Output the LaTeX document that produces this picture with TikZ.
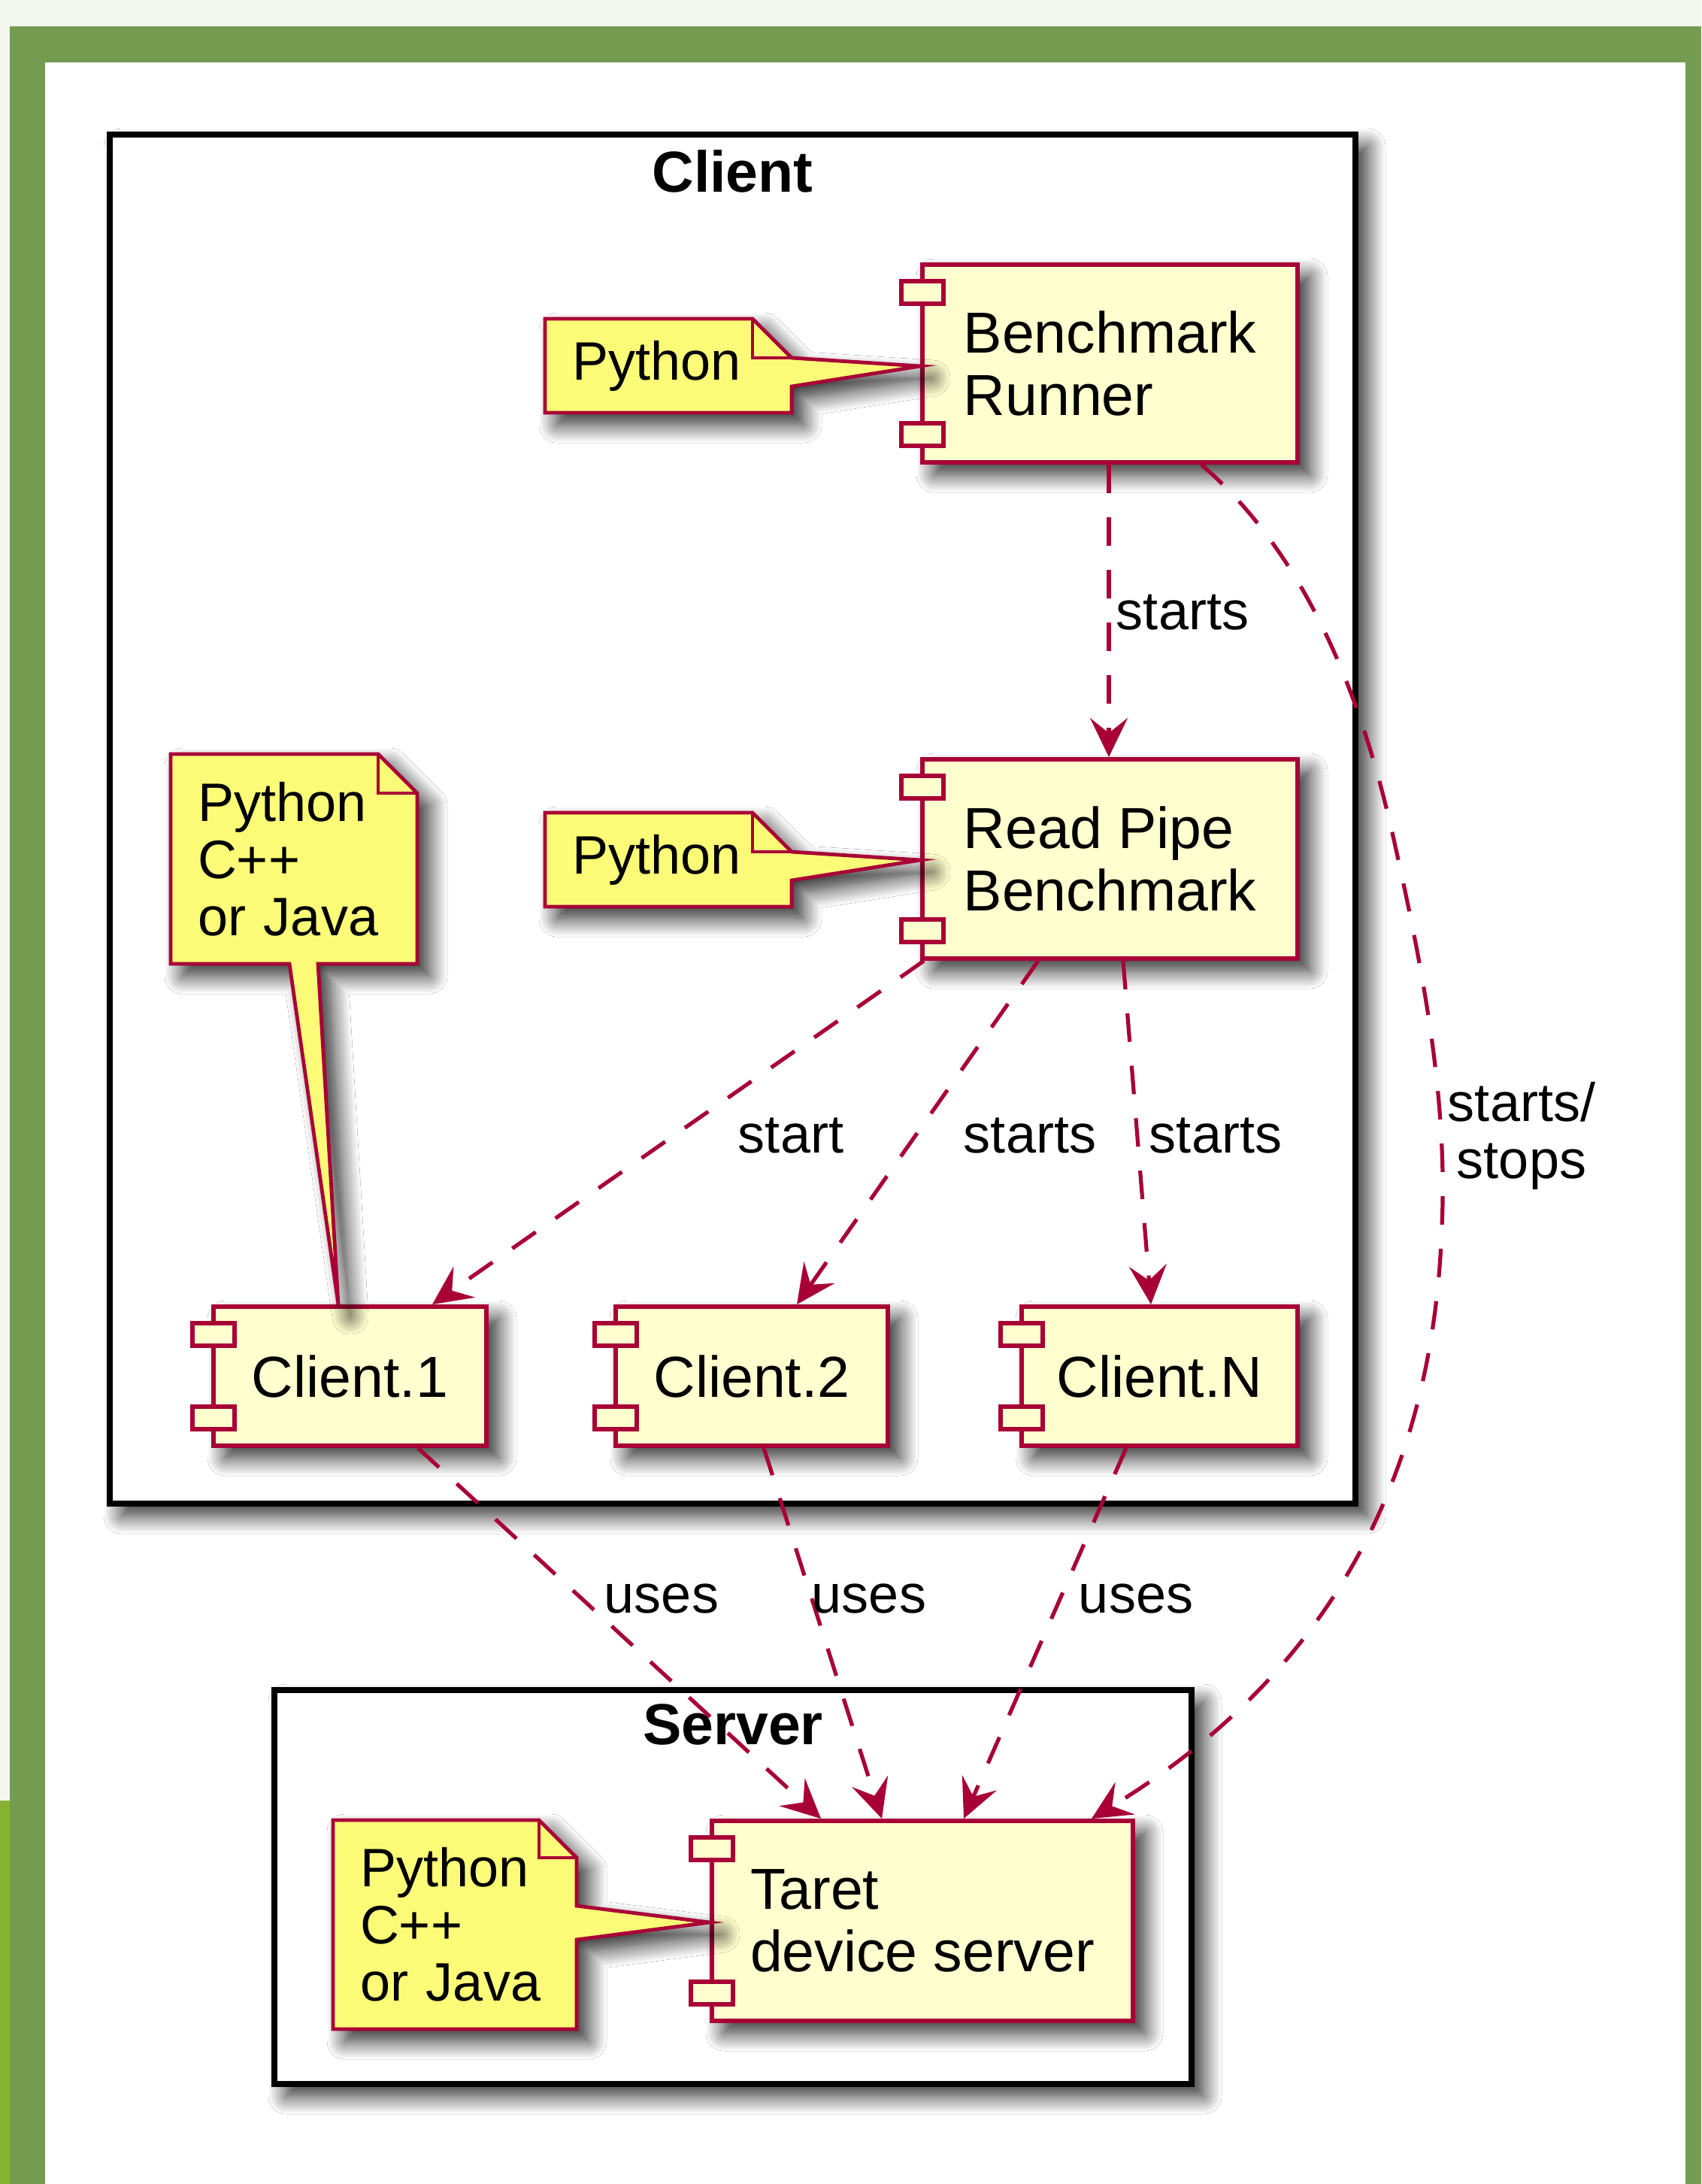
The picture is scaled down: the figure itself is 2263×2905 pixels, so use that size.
\documentclass[tikz,border=0pt]{standalone}
\usepackage{fontspec}
\setmainfont{Liberation Sans}
\usetikzlibrary{arrows.meta,shadows.blur,calc}
\definecolor{umlred}{HTML}{A80036}
\definecolor{compfill}{HTML}{FEFECE}
\definecolor{notefill}{HTML}{FBFB77}
\definecolor{framegreen}{HTML}{739C51}
\definecolor{bgpale}{HTML}{F4F7EE}
\definecolor{limegreen}{HTML}{86B232}
\newcommand\mycompfont{\fontsize{19.25pt}{20.75pt}\selectfont}
\newcommand\mynotefont{\fontsize{18pt}{19pt}\selectfont}
\newcommand\mytitlefont{\fontsize{19.25pt}{21pt}\selectfont\bfseries}
\begin{document}
\begin{tikzpicture}[x=0.25pt,y=-0.25pt,
  shad/.style={blur shadow={shadow xshift=4pt,shadow yshift=-4pt,shadow blur radius=6pt,shadow blur steps=16,shadow opacity=85}},
  comp/.style={rectangle,draw=umlred,fill=compfill,line width=1.5pt,inner xsep=4pt,inner ysep=0pt,align=left,font=\mycompfont,shad},
  port/.style={draw=umlred,fill=compfill,line width=1.5pt},
  pkg/.style={rectangle,draw=black,fill=white,line width=2pt,inner sep=0pt,shad},
  pkgtitle/.style={font=\mytitlefont,inner sep=0pt},
  notenode/.style={rectangle,inner xsep=9pt,inner ysep=0pt,outer sep=0pt,align=left,font=\mynotefont},
  noteshape/.style={draw=umlred,fill=notefill,line width=1.2pt,line join=miter,shad},
  notefold/.style={draw=umlred,line width=1.2pt},
  dep/.style={draw=umlred,line width=1.3pt,dash pattern=on 9.5pt off 8pt,-{Stealth[length=13pt,width=12.5pt,inset=5pt]}},
  lbl/.style={font=\mynotefont,inner sep=0pt,align=center}]
\useasboundingbox (0,0) rectangle (2263,2905);
% page background and frame
\fill[bgpale] (0,0) rectangle (2263,2905);
\fill[framegreen] (13,35) rectangle (2263,2905);
\fill[white] (60,83) rectangle (2242,2905);
\fill[limegreen] (0,2395) rectangle (13,2905);
% packages
\node[pkg,minimum width=414.25pt,minimum height=455.25pt] (client) at (974.5,1089.5) {};
\node[pkg,minimum width=305pt,minimum height=131pt] (server) at (975,2510) {};
\node[pkgtitle] (clientlbl) at ([yshift=-13.25pt]client.north) {Client};
\node[pkgtitle] (serverlbl) at ([yshift=-12.5pt]server.north) {Server};
% components
\node[comp,minimum width=124.75pt,minimum height=65.75pt] (runner) at (1476.5,483.5) {Benchmark\\Runner};
\node[comp,minimum width=124.75pt,minimum height=66.25pt] (readpipe) at (1476.5,1142.5) {Read Pipe\\Benchmark};
\node[comp,minimum width=90.75pt,minimum height=46.25pt] (client1) at (465.5,1830.5) {Client.1};
\node[comp,minimum width=90.5pt,minimum height=46.25pt] (client2) at (1000,1830.5) {Client.2};
\node[comp,minimum width=91.75pt,minimum height=46.25pt] (clientN) at (1542.5,1830.5) {Client.N};
\node[comp,minimum width=140pt,minimum height=66.5pt] (taret) at (1227,2555) {Taret\\device server};
\foreach \c in {runner,readpipe,client1,client2,clientN,taret}{
  \draw[port] ([xshift=-6.25pt,yshift=-6.25pt]\c.north west) rectangle ++(14pt,-7.5pt);
  \draw[port] ([xshift=-6.25pt,yshift=6.25pt]\c.south west) rectangle ++(14pt,7.5pt);
}
% note corners
\coordinate (n1a) at (725,424);  \coordinate (n1b) at (1053,549);
\coordinate (n2a) at (725,1081); \coordinate (n2b) at (1053,1206);
\coordinate (n3a) at (227,1003); \coordinate (n3b) at (555,1282);
\coordinate (n4a) at (443,2421); \coordinate (n4b) at (767,2699);
% note shapes
\path[noteshape] (n1a) -- ([xshift=-13pt]n1a -| n1b) -- ([yshift=-13pt]n1a -| n1b)
  -- (runner.west |- 0,487) -- ([yshift=-22.5pt]n1a -| n1b) -- (n1b) -- (n1a |- n1b) -- cycle;
\draw[notefold] ([xshift=-13pt]n1a -| n1b) |- ([yshift=-13pt]n1a -| n1b);
\path[noteshape] (n2a) -- ([xshift=-13pt]n2a -| n2b) -- ([yshift=-13pt]n2a -| n2b)
  -- (readpipe.west |- 0,1144) -- ([yshift=-22.5pt]n2a -| n2b) -- (n2b) -- (n2a |- n2b) -- cycle;
\draw[notefold] ([xshift=-13pt]n2a -| n2b) |- ([yshift=-13pt]n2a -| n2b);
\path[noteshape] (n3a) -- ([xshift=-13pt]n3a -| n3b) -- ([yshift=-13pt]n3a -| n3b)
  -- (n3b) -- ([xshift=49pt]n3a |- n3b) -- (client1.north -| 450,0) -- ([xshift=39.5pt]n3a |- n3b) -- (n3a |- n3b) -- cycle;
\draw[notefold] ([xshift=-13pt]n3a -| n3b) |- ([yshift=-13pt]n3a -| n3b);
\path[noteshape] (n4a) -- ([xshift=-12.5pt]n4a -| n4b) -- ([yshift=-12.5pt]n4a -| n4b)
  -- ([yshift=-28.5pt]n4a -| n4b) -- (taret.west |- 0,2557) -- ([yshift=-39.75pt]n4a -| n4b) -- (n4b) -- (n4a |- n4b) -- cycle;
\draw[notefold] ([xshift=-12.5pt]n4a -| n4b) |- ([yshift=-12.5pt]n4a -| n4b);
% note texts
\node[notenode,text width=64pt,minimum height=31.25pt] (n1) at ($(n1a)!0.5!(n1b)$) {Python};
\node[notenode,text width=64pt,minimum height=31.25pt] (n2) at ($(n2a)!0.5!(n2b)$) {Python};
\node[notenode,text width=64pt,minimum height=69.75pt] (n3) at ($(n3a)!0.5!(n3b)$) {Python\\C++\\or Java};
\node[notenode,text width=63pt,minimum height=69.5pt] (n4) at ($(n4a)!0.5!(n4b)$) {Python\\C++\\or Java};
% connectors
\draw[dep] (runner.south -| 1475,0) -- (readpipe.north -| 1475,0);
\draw[dep] (readpipe.south -| 1229,0) -- (client1.north -| 575,0);
\draw[dep] (readpipe.south -| 1381,0) -- (client2.north -| 1060,0);
\draw[dep] (readpipe.south -| 1494,0) -- (clientN.north -| 1531,0);
\draw[dep] (runner.south -| 1598,0) .. controls (1740,740) and (1812,931) .. (1853,1112)
  .. controls (1891,1282) and (1926,1457) .. (1918,1631)
  .. controls (1905,2010) and (1730,2250) .. (taret.north -| 1452,0);
\draw[dep] (client1.south -| 556,0) -- (taret.north -| 1092,0);
\draw[dep] (client2.south -| 1016,0) -- (taret.north -| 1173,0);
\draw[dep] (clientN.south -| 1498,0) -- (taret.north -| 1282,0);
% labels
\node[lbl] (l1) at (1573,815) {starts};
\node[lbl] (l2) at (1052,1511) {start};
\node[lbl] (l3) at (1370,1511) {starts};
\node[lbl] (l4) at (1617,1511) {starts};
\node[lbl] (l5) at (2024,1511) {starts/\\stops};
\node[lbl] (l6) at (880,2126) {uses};
\node[lbl] (l7) at (1156,2126) {uses};
\node[lbl] (l8) at (1511,2126) {uses};
\end{tikzpicture}
\end{document}
